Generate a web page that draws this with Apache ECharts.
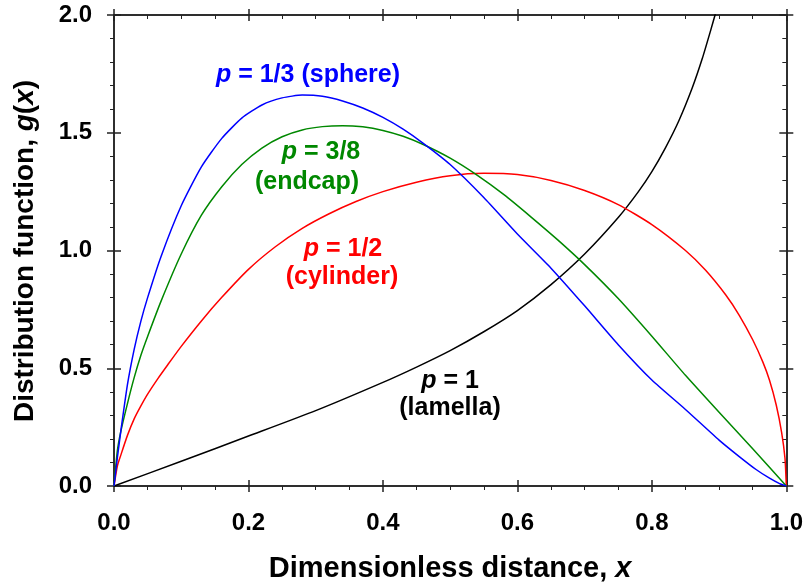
<!DOCTYPE html>
<html>
<head>
<meta charset="utf-8">
<script src="https://cdn.jsdelivr.net/npm/echarts@6/dist/echarts.min.js"></script>
<style>
  html, body { margin: 0; padding: 0; background: #fff; }
  #chart { width: 806px; height: 588px; }
</style>
</head>
<body>
<div id="chart"></div>
<script>
// 数据：[x, g(x)]
const sphere = [[0, 0], [0.005, 0.12], [0.01, 0.23], [0.02, 0.43], [0.03, 0.58], [0.04, 0.70],
  [0.05, 0.80], [0.07, 0.975], [0.10, 1.19], [0.13, 1.355], [0.16, 1.475], [0.19, 1.562],
  [0.22, 1.618], [0.25, 1.648], [0.28, 1.66], [0.31, 1.655], [0.34, 1.635], [0.37, 1.605],
  [0.40, 1.565], [0.43, 1.515], [0.46, 1.455], [0.50, 1.365], [0.55, 1.225], [0.60, 1.07],
  [0.65, 0.925], [0.70, 0.765], [0.75, 0.60], [0.80, 0.45], [0.85, 0.325], [0.90, 0.195],
  [0.93, 0.125], [0.955, 0.07], [0.975, 0.033], [0.99, 0.01], [1.0, 0]];
const endcap = [[0, 0], [0.005, 0.15], [0.01, 0.23], [0.02, 0.35], [0.03, 0.46], [0.04, 0.555],
  [0.05, 0.635], [0.07, 0.785], [0.10, 0.985], [0.13, 1.15], [0.16, 1.27], [0.19, 1.365],
  [0.22, 1.435], [0.25, 1.483], [0.28, 1.512], [0.31, 1.526], [0.34, 1.53], [0.37, 1.525],
  [0.40, 1.51], [0.43, 1.485], [0.46, 1.45], [0.50, 1.392], [0.54, 1.32], [0.58, 1.237],
  [0.62, 1.143], [0.66, 1.045], [0.70, 0.94], [0.75, 0.796], [0.80, 0.636], [0.85, 0.47],
  [0.90, 0.313], [0.95, 0.158], [1.0, 0]];
const cylinder = [[0, 0], [0.005, 0.085], [0.01, 0.13], [0.02, 0.215], [0.03, 0.285], [0.04, 0.34],
  [0.05, 0.39], [0.065, 0.455], [0.08, 0.515], [0.10, 0.593], [0.13, 0.701], [0.16, 0.80],
  [0.20, 0.92], [0.24, 1.016], [0.28, 1.094], [0.32, 1.156], [0.36, 1.208], [0.40, 1.25],
  [0.45, 1.29], [0.50, 1.3175], [0.55, 1.3275], [0.60, 1.3225], [0.65, 1.2975], [0.70, 1.255],
  [0.75, 1.195], [0.80, 1.11], [0.85, 1.0], [0.88, 0.916], [0.91, 0.811], [0.93, 0.725],
  [0.95, 0.621], [0.965, 0.527], [0.975, 0.449], [0.985, 0.344], [0.993, 0.228], [0.998, 0.118], [1.0, 0]];
const lamella = [[0, 0], [0.10, 0.105], [0.20, 0.212], [0.30, 0.32], [0.40, 0.44], [0.45, 0.505],
  [0.50, 0.575], [0.55, 0.655], [0.60, 0.745], [0.65, 0.855], [0.70, 0.985], [0.75, 1.14],
  [0.78, 1.25], [0.80, 1.335], [0.82, 1.435], [0.84, 1.55], [0.86, 1.69], [0.875, 1.815],
  [0.888, 1.94], [0.895, 2.01]];

const xTicks = [0, 1, 0.2];   // min, max, interval
const yTicks = [0, 2, 0.5];

(function () {
  let myChart = echarts.init(document.getElementById('chart'));
  const font = 'Liberation Sans, Arial, sans-serif';
  const axisColor = '#222';
  const line = { show: true, onZero: false, lineStyle: { color: axisColor, width: 1.5 } };

  // 同位置叠两根轴，做出穿过轴线的主刻度
  function xAx(pos, inside, minor, label) {
    return {
      type: 'value', min: xTicks[0], max: xTicks[1], interval: xTicks[2], position: pos,
      axisLine: line,
      axisTick: { show: true, inside: inside, length: 6, lineStyle: { color: axisColor, width: 1.5 } },
      minorTick: { show: minor, splitNumber: 4, length: 4, lineStyle: { color: axisColor, width: 1 } },
      splitLine: { show: false },
      axisLabel: label ? {
        show: true, margin: 25, color: '#000', fontFamily: font, fontWeight: 'bold', fontSize: 24,
        formatter: v => v.toFixed(1)
      } : { show: false }
    };
  }
  function yAx(pos, inside, minor, label) {
    return {
      type: 'value', min: yTicks[0], max: yTicks[1], interval: yTicks[2], position: pos,
      axisLine: line,
      axisTick: { show: true, inside: inside, length: 7, lineStyle: { color: axisColor, width: 1.5 } },
      minorTick: { show: minor, splitNumber: 5, length: 4, lineStyle: { color: axisColor, width: 1 } },
      splitLine: { show: false },
      axisLabel: label ? {
        show: true, margin: 22, color: '#000', fontFamily: font, fontWeight: 'bold', fontSize: 24,
        formatter: v => v.toFixed(1)
      } : { show: false }
    };
  }

  let xAxes = [xAx('bottom', false, true, true), xAx('bottom', true, false, false),
    xAx('top', true, true, false), xAx('top', false, false, false)];
  let yAxes = [yAx('left', false, true, true), yAx('left', true, false, false),
    yAx('right', true, true, false), yAx('right', false, false, false)];

  const titleRich = {
    n: { fontFamily: font, fontWeight: 'bold', fontSize: 29, color: '#000' },
    i: { fontFamily: font, fontWeight: 'bold', fontStyle: 'italic', fontSize: 29, color: '#000' }
  };
  xAxes[0].name = '{n|Dimensionless distance, }{i|x}';
  xAxes[0].nameLocation = 'middle';
  xAxes[0].nameGap = 68;
  xAxes[0].nameTextStyle = { rich: titleRich };

  function series(data, color) {
    return {
      type: 'line', data: data, xAxisIndex: 0, yAxisIndex: 0,
      showSymbol: false, smooth: 0.2, clip: true,
      lineStyle: { color: color, width: 1.5 }, silent: true
    };
  }

  function label(x, y, text, color, size) {
    size = size || 25;
    return {
      type: 'text', x: x, y: y,
      style: {
        text: text, fill: color, align: 'center', verticalAlign: 'middle',
        font: 'bold ' + size + 'px ' + font,
        rich: {
          i: { fill: color, font: 'italic bold ' + size + 'px ' + font },
          n: { fill: color, font: 'bold ' + size + 'px ' + font }
        }
      }
    };
  }

  let yTitle = label(0, 0, '{n|Distribution function, }{i|g}{n|(}{i|x}{n|)}', '#000', 28);
  yTitle.x = 25;
  yTitle.y = 251;
  yTitle.rotation = Math.PI / 2;

  let option = {
    animation: false,
    grid: { left: 114, right: 19.5, top: 15, bottom: 102, containLabel: false },
    xAxis: xAxes,
    yAxis: yAxes,
    series: [
      series(lamella, '#000000'),
      series(cylinder, '#ff0000'),
      series(endcap, '#008800'),
      series(sphere, '#0000ff')
    ],
    graphic: [
      yTitle,
      label(308, 75, '{i|p}{n| = 1/3 (sphere)}', '#0000ff'),
      label(321, 152, '{i|p}{n| = 3/8}', '#008800'),
      label(307, 182, '(endcap)', '#008800'),
      label(343, 249, '{i|p}{n| = 1/2}', '#ff0000'),
      label(342, 277, '(cylinder)', '#ff0000'),
      label(450, 381, '{i|p}{n| = 1}', '#000000'),
      label(450, 408, '(lamella)', '#000000')
    ]
  };

  myChart.setOption(option);
})();
</script>
</body>
</html>
